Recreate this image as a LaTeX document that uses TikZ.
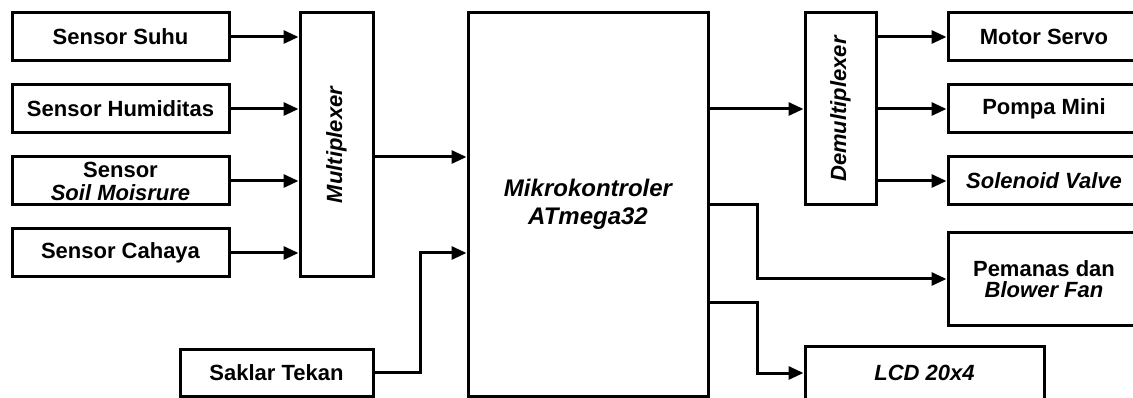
\documentclass[tikz,border=0pt]{standalone}
\usepackage{fontspec}
\setmainfont{Liberation Sans}
\usetikzlibrary{arrows.meta}
\begin{document}
\begin{tikzpicture}[x=1pt,y=-1pt,
  txt/.style={font=\fontsize{22}{22}\selectfont\bfseries},
  blk/.style={draw, line width=3pt, inner sep=0pt, align=center, txt},
  arr/.style={line width=3pt, line join=miter, -{Triangle[length=15pt,width=13pt]}}]
\useasboundingbox (0,0) rectangle (1133,398);
\clip (0,0) rectangle (1133,398);

% sensors
\node[blk, minimum width=217pt, minimum height=48pt] (suhu)   at (120.5,37)  {Sensor Suhu};
\node[blk, minimum width=217pt, minimum height=48pt] (humid)  at (120.5,109) {Sensor Humiditas};
\node[blk, minimum width=217pt, minimum height=48pt, font=\fontsize{22}{23}\selectfont\bfseries] (soil) at (120.5,181) {Sensor\\\itshape Soil Moisrure};
\node[blk, minimum width=217pt, minimum height=48pt] (cahaya) at (120.5,253) {Sensor Cahaya};
\node[blk, minimum width=193pt, minimum height=47pt] (saklar) at (276.5,372.5) {Saklar Tekan};

% multiplexer
\node[blk, minimum width=73pt, minimum height=264pt] (mux) at (336.5,145) {};
\node[txt, rotate=90, font=\fontsize{22}{22}\selectfont\bfseries\itshape] (muxlbl) at (mux.center) {Multiplexer};

% microcontroller
\node[blk, minimum width=240pt, minimum height=383pt,
      font=\fontsize{24}{28}\selectfont\bfseries\itshape] (micro) at (588,204.5) {Mikrokontroler\\ATmega32};

% demultiplexer
\node[blk, minimum width=71pt, minimum height=192pt] (demux) at (840.5,109) {};
\node[txt, rotate=90, font=\fontsize{22}{22}\selectfont\bfseries\itshape] (demuxlbl) at (demux.center) {Demultiplexer};

% outputs
\node[blk, minimum width=192pt, minimum height=48pt] (motor)    at (1044,37)  {Motor Servo};
\node[blk, minimum width=192pt, minimum height=48pt] (pompa)    at (1044,109) {Pompa Mini};
\node[blk, minimum width=192pt, minimum height=48pt, font=\fontsize{22}{22}\selectfont\bfseries\itshape] (solenoid) at (1044,181) {Solenoid Valve};
\node[blk, minimum width=192pt, minimum height=92pt, font=\fontsize{22}{21}\selectfont\bfseries] (pemanas) at (1044,279) {Pemanas dan\\\itshape Blower Fan};
\node[blk, minimum width=239pt, minimum height=54pt, font=\fontsize{22}{22}\selectfont\bfseries\itshape] (lcd) at (924.5,373) {LCD 20x4};

% bend points
\coordinate (bendA) at (420,0);
\coordinate (bendB) at (757,0);
\coordinate (mOut) at ([yshift=-12pt]mux.east);
\coordinate (lOut) at (708,302);

% connectors
\draw[arr] (suhu.east)   -- (suhu.east -| mux.west);
\draw[arr] (humid.east)  -- (humid.east -| mux.west);
\draw[arr] (soil.east)   -- (soil.east -| mux.west);
\draw[arr] (cahaya.east) -- (cahaya.east -| mux.west);
\draw[arr] (mOut) -- (mOut -| micro.west);
\draw[arr] (saklar.east) -- (saklar.east -| bendA) |- (micro.west |- cahaya.east);
\draw[arr] (micro.east |- demux.west) -- (demux.west);
\draw[arr] (demux.east |- motor.west) -- (motor.west);
\draw[arr] (demux.east |- pompa.west) -- (pompa.west);
\draw[arr] (demux.east |- solenoid.west) -- (solenoid.west);
\draw[arr] (micro.east) -- (micro.east -| bendB) |- (pemanas.west);
\draw[arr] (lOut) -- (lOut -| bendB) |- (lcd.west);
\end{tikzpicture}
\end{document}
